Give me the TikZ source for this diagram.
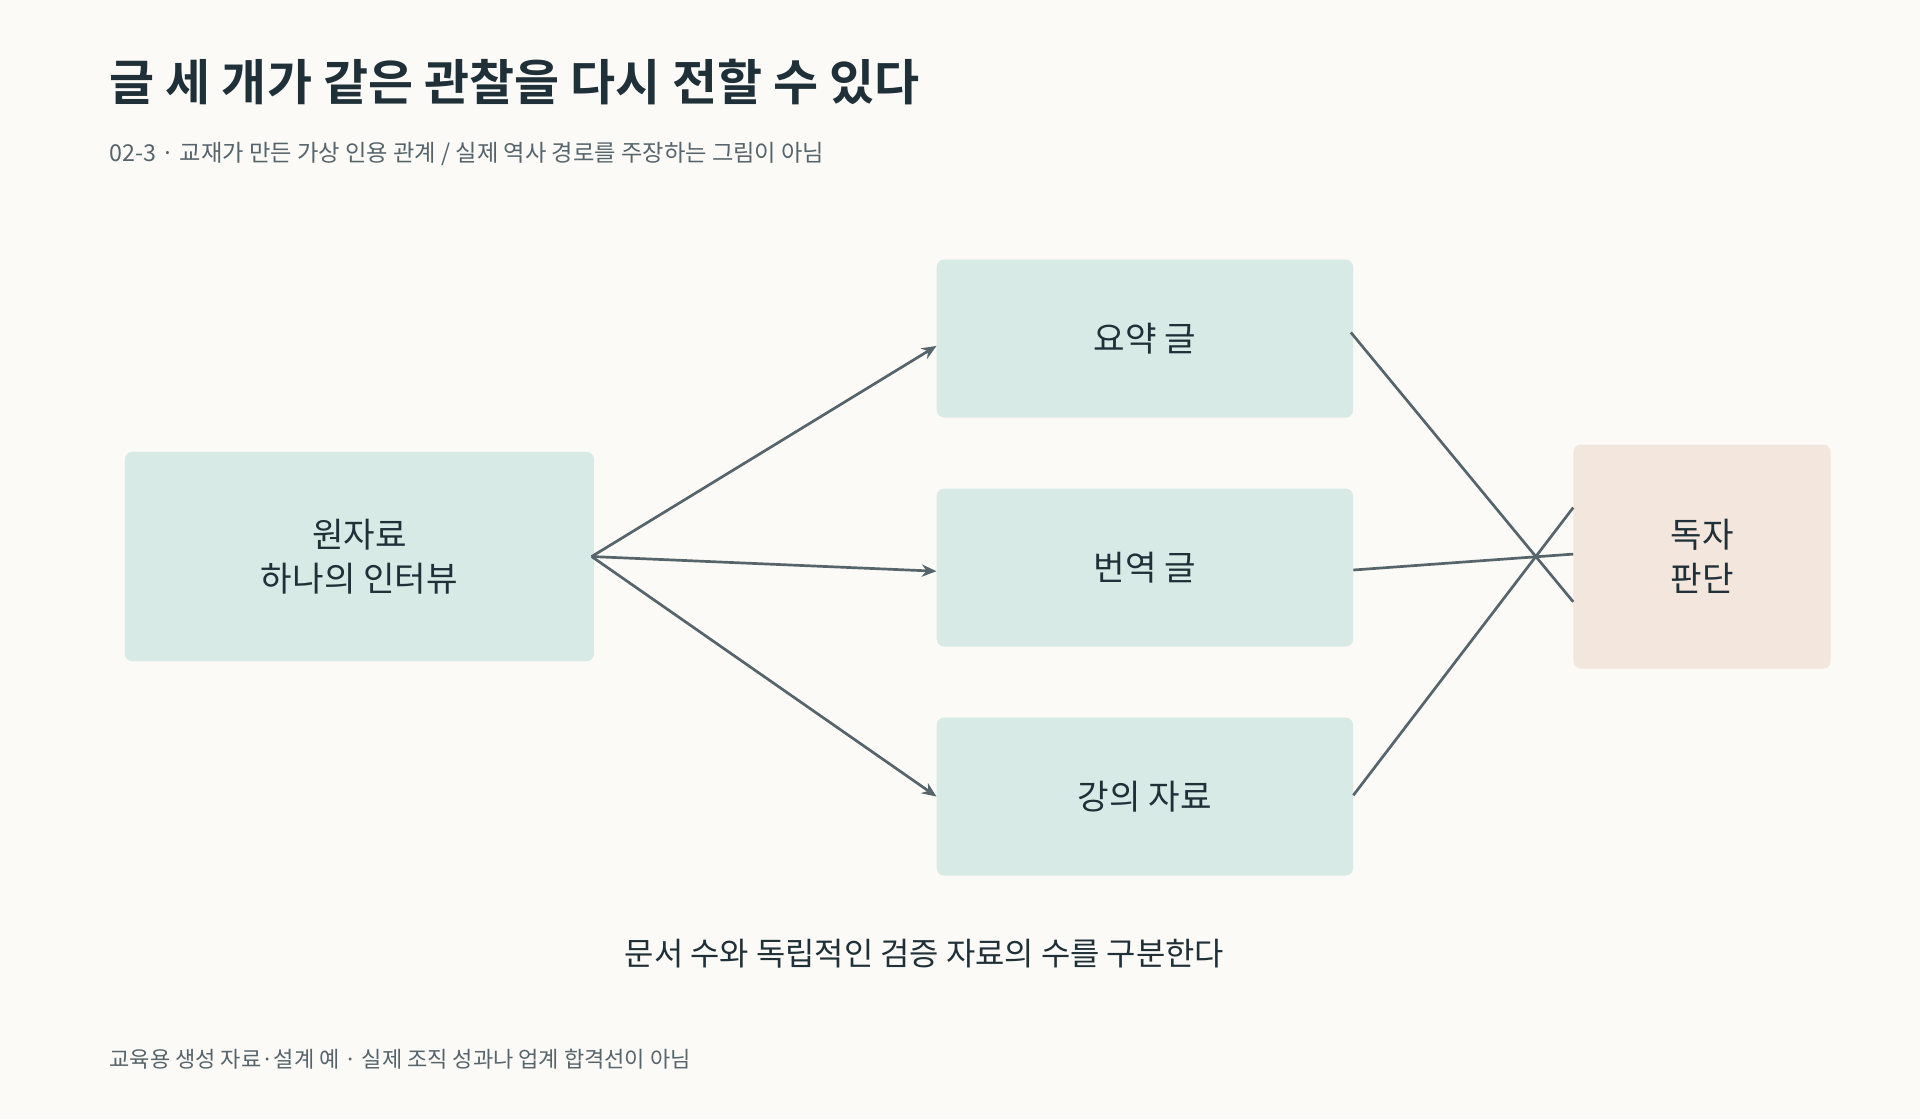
\documentclass[tikz,border=0pt]{standalone}
\usepackage{fontspec}
\setmainfont{Noto Sans CJK KR}
\newfontfamily\krbold{Noto Sans CJK KR Bold}
\usetikzlibrary{positioning,arrows.meta}
\definecolor{bgpaper}{HTML}{FBFAF7}
\definecolor{boxmint}{HTML}{D8EAE5}
\definecolor{boxpeach}{HTML}{F2E6DD}
\definecolor{inkdark}{HTML}{1F3038}
\definecolor{inkgrey}{HTML}{56646B}
\begin{document}
\begin{tikzpicture}[x=1pt, y=-1pt, font=\color{inkdark}]
      \tikzset{
	  box/.style={fill=boxmint, rounded corners=6pt, text centered, font=\fontsize{28}{36}\selectfont\color{inkdark}, align=center},
	  link/.style={draw=inkgrey, line width=2.2pt},
	  flow/.style={link, -{Stealth[length=12pt,width=10pt]}}
      }
      \fill[bgpaper] (0,0) rectangle (1568,914);
      \useasboundingbox (0,0) rectangle (1568,914);

      \node[anchor=base west, font=\krbold\fontsize{40}{48}\selectfont\color{inkdark}] (title) at (86,82) {글 세 개가 같은 관찰을 다시 전할 수 있다};
      \node[anchor=base west, font=\fontsize{19}{24}\selectfont\color{inkgrey}] (sub) at (86,132) {02-3 · 교재가 만든 가상 인용 관계 / 실제 역사 경로를 주장하는 그림이 아님};

      \node[box, minimum width=383pt, minimum height=171pt] (src) at (293.5,454.5) {원자료\\하나의 인터뷰};
      \node[box, minimum width=340pt, minimum height=129pt] (sum) at (935,276.5) {요약 글};
      \node[box, minimum width=340pt, minimum height=129pt] (trn) at (935,463.5) {번역 글};
      \node[box, minimum width=340pt, minimum height=129pt] (lec) at (935,650.5) {강의 자료};
      \node[box, fill=boxpeach, minimum width=210pt, minimum height=183pt] (rdr) at (1390,454.5) {독자\\판단};

      \coordinate (hub) at ([xshift=-2pt]src.east);
      \draw[flow] (hub) -- ([yshift=-6pt]sum.west);
      \draw[flow] (hub) -- ([yshift=-3pt]trn.west);
      \draw[flow] (hub) -- (lec.west);

      \draw[link] ([xshift=-2pt,yshift=5pt]sum.east) -- ([yshift=-37pt]rdr.west);
      \draw[link] ([yshift=-2pt]trn.east) -- ([yshift=2pt]rdr.west);
      \draw[link] ([yshift=1pt]lec.east) -- ([yshift=40pt]rdr.west);

      \node[font=\fontsize{26}{32}\selectfont\color{inkdark}] (note) at (755,779) {문서 수와 독립적인 검증 자료의 수를 구분한다};
      \node[anchor=base west, font=\fontsize{18}{22}\selectfont\color{inkgrey}] (foot) at (86,872) {교육용 생성 자료·설계 예 · 실제 조직 성과나 업계 합격선이 아님};
\end{tikzpicture}
\end{document}
